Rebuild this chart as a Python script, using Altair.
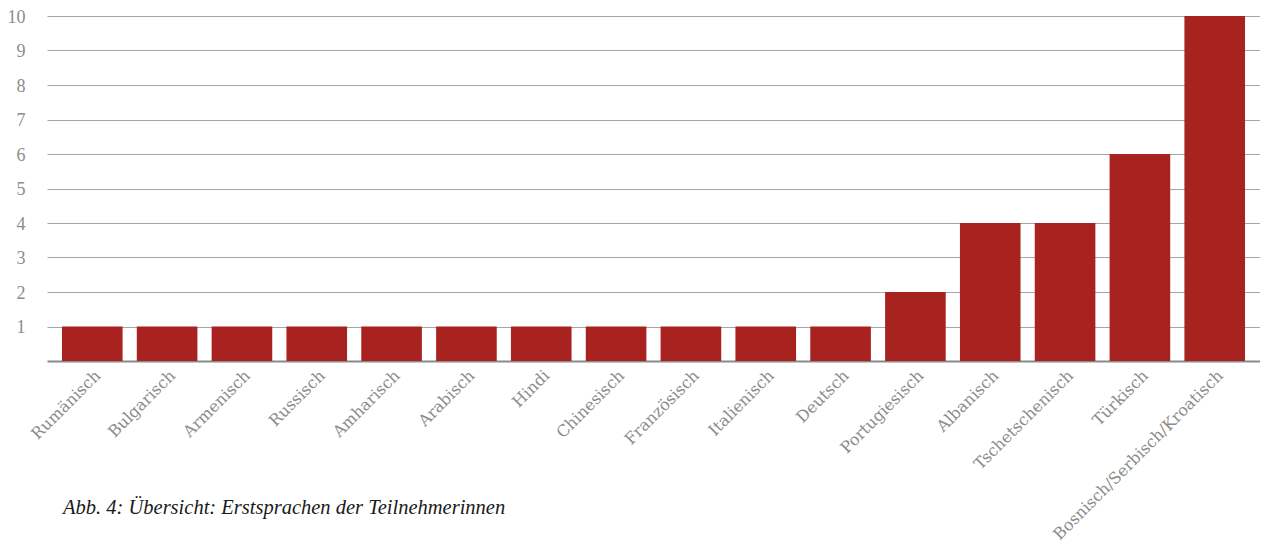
import altair as alt
import pandas as pd

sprachen = ["Rumänisch", "Bulgarisch", "Armenisch", "Russisch", "Amharisch", "Arabisch",
            "Hindi", "Chinesisch", "Französisch", "Italienisch", "Deutsch", "Portugiesisch",
            "Albanisch", "Tschetschenisch", "Türkisch", "Bosnisch/Serbisch/Kroatisch"]
anzahl = [1, 1, 1, 1, 1, 1, 1, 1, 1, 1, 1, 2, 4, 4, 6, 10]
y_ticks = [1, 2, 3, 4, 5, 6, 7, 8, 9, 10]

df = pd.DataFrame({"Sprache": sprachen, "Anzahl": anzahl})

FONT = "Liberation Serif"
XFONT = "DejaVu Serif"

chart = alt.Chart(df).mark_bar(color="#A8221F").encode(
    x=alt.X("Sprache:N", sort=sprachen, title=None,
            scale=alt.Scale(paddingInner=0.19, paddingOuter=0.2),
            axis=alt.Axis(labelAngle=-45, labelAlign="right", labelBaseline="top",
                          labelPadding=6, ticks=False, domain=True, domainColor="#8A8A8A",
                          domainWidth=2, labelFont=XFONT, labelFontSize=16,
                          labelColor="#8C8C8C", grid=False, labelLimit=400)),
    y=alt.Y("Anzahl:Q", title=None,
            scale=alt.Scale(domain=[0, 10], nice=False),
            axis=alt.Axis(values=y_ticks, ticks=False, domain=False, grid=True,
                          gridColor="#A6A6A6", gridWidth=1, labelPadding=22,
                          labelOffset=1, labelFont=FONT, labelFontSize=18,
                          labelColor="#8C8C8C")),
).properties(
    width=1213, height=345,
    autosize=alt.AutoSizeParams(type="none"),
    padding={"left": 39, "top": 8, "right": 0, "bottom": 183},
    title=alt.TitleParams("Abb. 4: Übersicht: Erstsprachen der Teilnehmerinnen",
                          orient="bottom", anchor="start", frame="group",
                          font=FONT, fontSize=20.5, fontStyle="italic", fontWeight="normal",
                          color="#1A1A1A", dx=16, dy=-48),
).configure_view(stroke=None)

chart.save("out.html", embed_options={"renderer": "svg", "actions": False})
